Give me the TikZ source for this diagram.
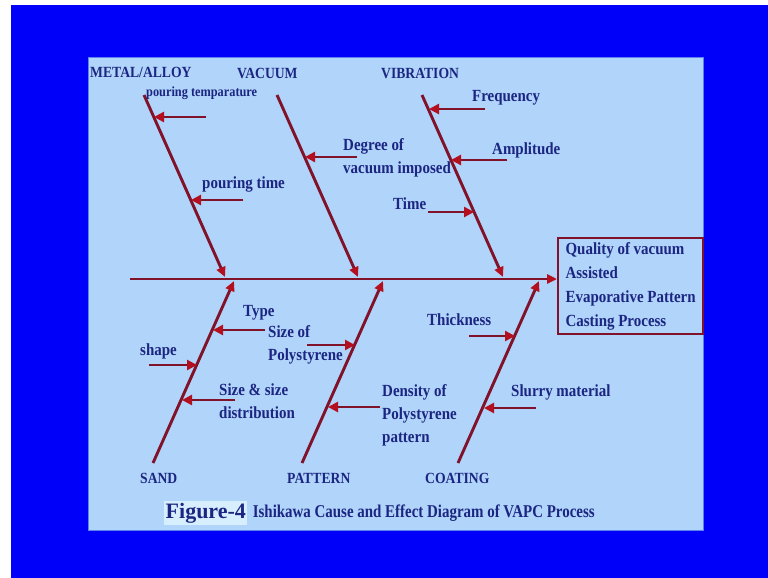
\documentclass[tikz,border=0pt]{standalone}
\usepackage{fontspec}
\setmainfont{Liberation Serif}[FakeStretch=0.88]
\newfontfamily\capfont{Liberation Serif}[FakeStretch=0.83]
\newfontfamily\fignumfont{Liberation Serif}
\usetikzlibrary{arrows.meta}
\definecolor{frameblue}{RGB}{0,0,250}
\definecolor{panel}{RGB}{176,212,250}
\definecolor{paneledge}{RGB}{90,130,235}
\definecolor{bone}{RGB}{128,18,42}
\definecolor{tipred}{RGB}{180,15,30}
\definecolor{ink}{RGB}{28,38,130}
\definecolor{hilite}{RGB}{215,238,255}
\begin{document}
\begin{tikzpicture}[x=1pt,y=-1pt,
  bonestyle/.style={draw=bone, line width=2.9pt, -{Triangle[length=10pt,width=9pt,color=tipred]}},
  subarrow/.style={draw=bone, line width=2.9pt, -{Triangle[length=10pt,width=10pt,color=tipred]}},
  lbl/.style={text=ink, font=\bfseries\fontsize{17}{23}\selectfont, inner sep=0pt, anchor=west, align=left},
  catlbl/.style={text=ink, font=\bfseries\fontsize{15.5}{16}\selectfont, inner sep=0pt, anchor=west},
  smalllbl/.style={text=ink, font=\bfseries\fontsize{14}{15}\selectfont, inner sep=0pt, anchor=west},
  effectbox/.style={draw=bone, line width=2.2pt, fill=panel, anchor=north west, minimum width=145pt,
    minimum height=96pt, inner xsep=0pt, align=left, text=ink,
    font=\bfseries\fontsize{17}{24}\selectfont},
]
\useasboundingbox (0,0) rectangle (768,578);
% backgrounds
\fill[white] (0,0) rectangle (768,578);
\fill[frameblue] (11,5) rectangle (768,578);
\filldraw[fill=panel, draw=paneledge, line width=0.8pt] (88,57) rectangle (703,530);

% effect box
\node[effectbox] (effect) at (557,237) {Quality of vacuum\\Assisted\\Evaporative Pattern\\Casting Process};

% spine
\coordinate (spineStart) at (130,279);
\draw[bonestyle] (spineStart) -- (effect.west |- spineStart);

% top bones
\coordinate (mTop) at (144,95);   \coordinate (mEnd) at (225,277);
\coordinate (vTop) at (277,95);   \coordinate (vEnd) at (358,277);
\coordinate (bTop) at (422,95);   \coordinate (bEnd) at (503,277);
\draw[bonestyle] (mTop) -- (mEnd);
\draw[bonestyle] (vTop) -- (vEnd);
\draw[bonestyle] (bTop) -- (bEnd);

% bottom bones
\coordinate (sBot) at (153,463);  \coordinate (sEnd) at (234,281);
\coordinate (pBot) at (302,463);  \coordinate (pEnd) at (383,281);
\coordinate (cBot) at (458,463);  \coordinate (cEnd) at (539,281);
\draw[bonestyle] (sBot) -- (sEnd);
\draw[bonestyle] (pBot) -- (pEnd);
\draw[bonestyle] (cBot) -- (cEnd);

% category labels
\node[catlbl] (metal) at (90,72) {METAL/ALLOY};
\node[catlbl] (vacuum) at (237,73) {VACUUM};
\node[catlbl] (vibration) at (381,73) {VIBRATION};
\node[catlbl] (sand) at (140,478) {SAND};
\node[catlbl] (pattern) at (287,478) {PATTERN};
\node[catlbl] (coating) at (425,478) {COATING};

% sub causes: metal/alloy
\node[smalllbl] (ptemp) at (146,93) {pouring temparature};
\coordinate (ptempT) at (206,117); \coordinate (ptempH) at (154,117);
\draw[subarrow] (ptempT) -- (ptempH);
\node[lbl] (ptime) at (202,184) {pouring time};
\coordinate (ptimeT) at (243,200); \coordinate (ptimeH) at (191,200);
\draw[subarrow] (ptimeT) -- (ptimeH);

% vacuum
\node[lbl] (degree) at (343,157.5) {Degree of\\vacuum imposed};
\coordinate (degT) at (357,157); \coordinate (degH) at (305,157);
\draw[subarrow] (degT) -- (degH);

% vibration
\node[lbl] (freq) at (472,98) {Frequency};
\coordinate (freqT) at (485,109); \coordinate (freqH) at (429,109);
\draw[subarrow] (freqT) -- (freqH);
\node[lbl] (ampl) at (492,150) {Amplitude};
\coordinate (amplT) at (507,160); \coordinate (amplH) at (451,160);
\draw[subarrow] (amplT) -- (amplH);
\node[lbl] (time) at (393,204) {Time};
\coordinate (timeT) at (428,212); \coordinate (timeH) at (474,212);
\draw[subarrow] (timeT) -- (timeH);

% sand
\node[lbl] (type) at (243,313) {Type};
\coordinate (typeT) at (265,330); \coordinate (typeH) at (213,330);
\draw[subarrow] (typeT) -- (typeH);
\node[lbl] (shape) at (140,351) {shape};
\coordinate (shapeT) at (149,365); \coordinate (shapeH) at (197,365);
\draw[subarrow] (shapeT) -- (shapeH);
\node[lbl] (ssize) at (219,401.5) {Size \& size\\distribution};
\coordinate (ssizeT) at (235,400); \coordinate (ssizeH) at (182,400);
\draw[subarrow] (ssizeT) -- (ssizeH);

% pattern
\node[lbl] (psize) at (268,345) {Size of\\Polystyrene};
\coordinate (psizeT) at (307,345); \coordinate (psizeH) at (355,345);
\draw[subarrow] (psizeT) -- (psizeH);
\node[lbl] (dens) at (382,415) {Density of\\Polystyrene\\pattern};
\coordinate (densT) at (380,407); \coordinate (densH) at (328,407);
\draw[subarrow] (densT) -- (densH);

% coating
\node[lbl] (thick) at (427,320) {Thickness};
\coordinate (thickT) at (469,336); \coordinate (thickH) at (515,336);
\draw[subarrow] (thickT) -- (thickH);
\node[lbl] (slurry) at (511,392) {Slurry material};
\coordinate (slurryT) at (536,408); \coordinate (slurryH) at (484,408);
\draw[subarrow] (slurryT) -- (slurryH);

% caption
\node[fill=hilite, inner sep=1.5pt, anchor=west, text=ink, font=\fignumfont\bfseries\fontsize{22}{24}\selectfont] (fignum) at (164,513) {Figure-4};
\node[anchor=west, inner sep=0pt, text=ink, font=\capfont\bfseries\fontsize{18}{20}\selectfont] (figtitle) at ([xshift=5pt]fignum.east) {Ishikawa Cause and Effect Diagram of VAPC Process};
\end{tikzpicture}
\end{document}
